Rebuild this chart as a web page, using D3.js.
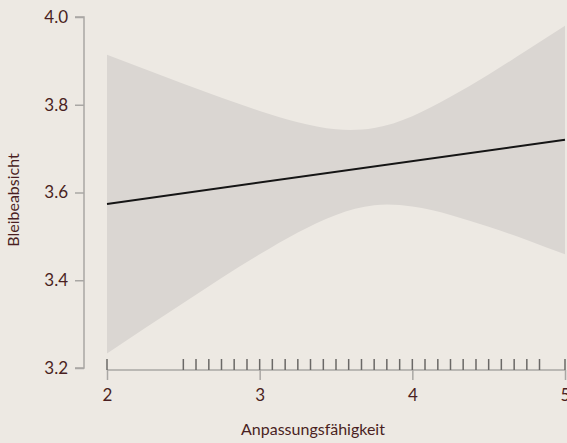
<!DOCTYPE html>
<html>
<head>
<meta charset="utf-8">
<script src="https://cdn.jsdelivr.net/npm/d3@7"></script>
<style>
  html, body { margin: 0; padding: 0; background: #ede9e3; }
  svg { display: block; }
  text { font-family: Lato, "Open Sans", sans-serif; fill: #4a1f22; }
</style>
</head>
<body>
<svg id="chart" width="567" height="443"></svg>
<script>
// Predicted Bleibeabsicht with confidence band
const bandX     = [2, 2.25, 2.5, 2.75, 3, 3.25, 3.5, 3.75, 4, 4.25, 4.5, 4.75, 5];
const bandLower = [3.233, 3.291, 3.348, 3.405, 3.459, 3.509, 3.549, 3.571, 3.568, 3.549, 3.522, 3.492, 3.459];
const bandUpper = [3.914, 3.881, 3.848, 3.816, 3.786, 3.760, 3.744, 3.747, 3.774, 3.818, 3.869, 3.924, 3.980];

const fitX = [2, 5];
const fitY = [3.574, 3.720];

// Observed Anpassungsfähigkeit values (rug)
const rugValues = [2, 2.5, 2.583, 2.667, 2.75, 2.833, 2.917, 3, 3.083, 3.167, 3.25, 3.333, 3.417,
  3.5, 3.583, 3.667, 3.75, 3.833, 3.917, 4, 4.083, 4.167, 4.25, 4.333, 4.417, 4.5, 4.583,
  4.667, 4.75, 4.833, 5];

const xTicks = [2, 3, 4, 5];
const yTicks = [3.2, 3.4, 3.6, 3.8, 4.0];

const svg = d3.select("#chart");

const x = d3.scaleLinear().domain([2, 5]).range([107, 565]);
const y = d3.scaleLinear().domain([3.2, 4.0]).range([368, 17]);

// confidence band
const band = bandX.map((v, i) => ({ x: v, lo: bandLower[i], hi: bandUpper[i] }));
svg.append("path")
  .datum(band)
  .attr("fill", "#dad6d2")
  .attr("d", d3.area()
    .x(d => x(d.x))
    .y0(d => y(d.lo))
    .y1(d => y(d.hi))
    .curve(d3.curveNatural));

// fitted line
svg.append("path")
  .datum(fitX.map((v, i) => ({ x: v, y: fitY[i] })))
  .attr("fill", "none")
  .attr("stroke", "#151515")
  .attr("stroke-width", 2)
  .attr("d", d3.line().x(d => x(d.x)).y(d => y(d.y)));

// y axis
const yAxis = svg.append("g")
  .attr("transform", "translate(84,0)")
  .call(d3.axisLeft(y).tickValues(yTicks).tickFormat(d3.format(".1f")).tickSize(9).tickPadding(7));
yAxis.select(".domain").attr("stroke", "#a9a7a4").attr("stroke-width", 1.5).attr("d", `M-9,${y(4.0)}H0V${y(3.2)}H-9`);
yAxis.selectAll(".tick line").attr("stroke", "#a9a7a4").attr("stroke-width", 1.5);
yAxis.selectAll(".tick text").style("font-size", "17px").attr("fill", "#4a1f22");

// x axis
const xAxis = svg.append("g")
  .attr("transform", "translate(0,370)")
  .call(d3.axisBottom(x).tickValues(xTicks).tickFormat(d3.format("d")).tickSize(10).tickPadding(9));
xAxis.select(".domain").attr("stroke", "#a9a7a4").attr("stroke-width", 1.5).attr("d", `M${x(2)},0H${x(5)}`);
xAxis.selectAll(".tick line").attr("stroke", "#a9a7a4").attr("stroke-width", 1.5);
xAxis.selectAll(".tick text").style("font-size", "17px").attr("fill", "#4a1f22");

// rug
svg.append("g")
  .selectAll("line")
  .data(rugValues)
  .join("line")
  .attr("x1", d => x(d)).attr("x2", d => x(d))
  .attr("y1", 359).attr("y2", 370)
  .attr("stroke", "#6a6866")
  .attr("stroke-width", 1.5);

// axis titles
svg.append("text")
  .attr("x", 313).attr("y", 435)
  .attr("text-anchor", "middle")
  .style("font-size", "16px")
  .text("Anpassungsfähigkeit");

svg.append("text")
  .attr("transform", "translate(19,200) rotate(-90)")
  .attr("text-anchor", "middle")
  .style("font-size", "16px")
  .text("Bleibeabsicht");
</script>
</body>
</html>
